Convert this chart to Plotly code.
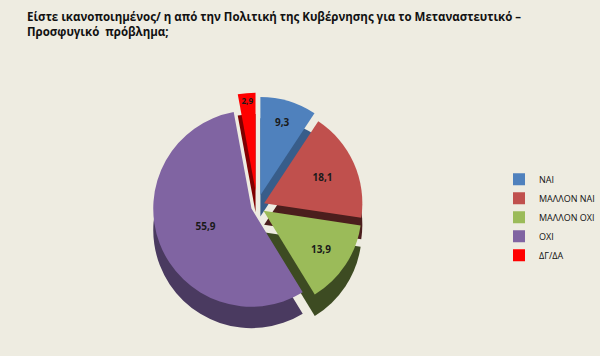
import plotly.graph_objects as go

labels = ["ΝΑΙ", "ΜΑΛΛΟΝ ΝΑΙ", "ΜΑΛΛΟΝ ΟΧΙ", "ΟΧΙ", "ΔΓ/ΔΑ"]
values = [9.3, 18.1, 13.9, 55.9, 2.9]
value_text = ["9,3", "18,1", "13,9", "55,9", "2,9"]
colors = ["#4F81BD", "#C0504D", "#9BBB59", "#8064A2", "#FF0000"]
side_colors = ["#385D8A", "#4B1E1D", "#3D4B22", "#4A3A60", "#7F0000"]
pulls = [0.12, 0.08, 0.08, 0.06, 0.16]

title = ("<b>Είστε ικανοποιημένος/ η από την Πολιτική της Κυβέρνησης για το Μεταναστευτικό –"
         "<br>Προσφυγικό  πρόβλημα;</b>")

fig = go.Figure()
# depth (side) layer
fig.add_trace(go.Pie(
    labels=labels, values=values, sort=False, direction="clockwise", rotation=0,
    pull=pulls, marker=dict(colors=side_colors, line=dict(width=0)),
    textinfo="none", hoverinfo="skip", showlegend=False,
    domain=dict(x=[0.08, 0.80], y=[0.04, 0.68]),
))
# top face
fig.add_trace(go.Pie(
    labels=labels, values=values, sort=False, direction="clockwise", rotation=0,
    pull=pulls, marker=dict(colors=colors, line=dict(width=0)),
    text=value_text, textinfo="text", textposition="inside",
    insidetextorientation="horizontal",
    textfont=dict(family="Open Sans", size=10, color="#1a1a1a", weight="bold"),
    domain=dict(x=[0.08, 0.80], y=[0.10, 0.74]),
))

fig.update_layout(
    width=600, height=356,
    paper_bgcolor="#EEECE1", plot_bgcolor="#EEECE1",
    margin=dict(l=0, r=0, t=0, b=0),
    title=dict(text=title, x=0.045, xanchor="left", y=0.94, yanchor="top",
               font=dict(family="Open Sans", size=11.5, color="#111111")),
    legend=dict(x=0.855, y=0.39, xanchor="left", yanchor="middle",
                font=dict(family="Open Sans", size=9, color="#111111"),
                bgcolor="rgba(0,0,0,0)", itemwidth=30),
    font=dict(family="Open Sans"),
)

fig.write_html("out.html")
